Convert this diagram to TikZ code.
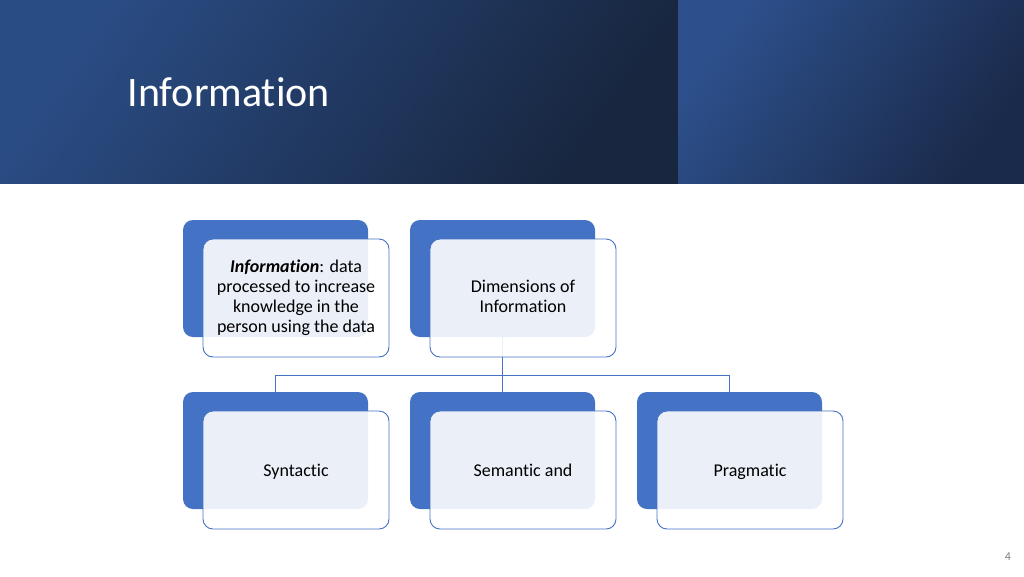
\documentclass[tikz,border=0pt]{standalone}
\usepackage{fontspec}
\setmainfont{Carlito}[Ligatures=NoCommon]
\usetikzlibrary{positioning}

\definecolor{accent}{HTML}{4472C4}
\definecolor{barlight}{HTML}{2A4C84}
\definecolor{bardark}{HTML}{18263F}
\definecolor{panellight}{HTML}{2D508C}
\definecolor{paneldark}{HTML}{1A2A4A}

\begin{document}
\begin{tikzpicture}[x=1pt,y=-1pt,
  backbox/.style={rectangle, rounded corners=10pt, fill=accent, inner sep=0pt, outer sep=0pt,
    minimum width=185pt, minimum height=117pt, anchor=north west},
  frontbox/.style={rectangle, rounded corners=10pt, draw=accent, line width=0.9pt,
    fill=white, fill opacity=0.89, text opacity=1, inner sep=0pt, outer sep=0pt,
    minimum width=186pt, minimum height=118pt, align=center,
    font=\fontsize{18}{20}\selectfont,
    execute at begin node=\rule[-4pt]{0pt}{20pt}, execute at end node=\rule[-4pt]{0pt}{20pt}},
  link/.style={draw=accent, line width=1pt}]

  % slide background and title bar
  \fill[white] (0,0) rectangle (1024,576);
  \useasboundingbox (0,0) rectangle (1024,576);
  \shade[left color=barlight, right color=bardark, shading angle=55] (0,0) rectangle (678,183);
  \shade[left color=panellight, right color=paneldark, shading angle=55] (678,0) rectangle (1024,183);
  \node[anchor=base west, text=white, font=\fontsize{42}{48}\selectfont] (title) at (124,106) {Information};

  % back boxes
  \node[backbox] (defback) at (183,220) {};
  \node[backbox] (dimback) at (410,220) {};
  \node[backbox] (synback) at (183,392) {};
  \node[backbox] (semback) at (410,392) {};
  \node[backbox] (prgback) at (637,392) {};

  % connectors
  \coordinate (fork) at (502.5,375);
  \draw[link] (dimback.south) -- (fork) -| (synback.north);
  \draw[link] (fork) -- (semback.north);
  \draw[link] (fork) -| (prgback.north);

  % front boxes
  \node[frontbox, below right=19pt and 20pt of defback.north west]
    (def) {\textbf{\textit{Information}}: data\\processed to increase\\knowledge in the\\person using the data};
  \node[frontbox, below right=19pt and 20pt of dimback.north west] (dim) {Dimensions of\\Information};
  \node[frontbox, below right=19pt and 20pt of synback.north west] (syn) {Syntactic};
  \node[frontbox, below right=19pt and 20pt of semback.north west] (sem) {Semantic and};
  \node[frontbox, below right=19pt and 20pt of prgback.north west] (prg) {Pragmatic};

  \node[text=gray, font=\fontsize{12}{14}\selectfont] (pagenum) at (1008,557) {4};
\end{tikzpicture}
\end{document}
